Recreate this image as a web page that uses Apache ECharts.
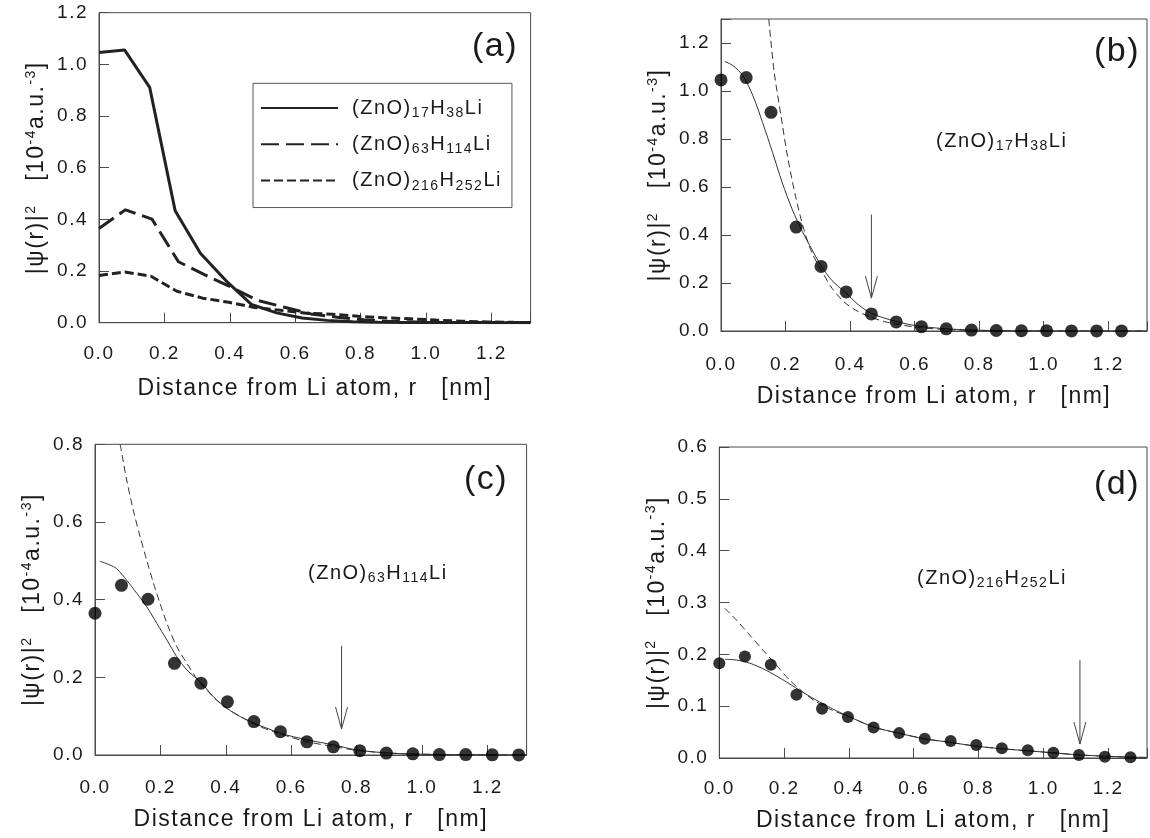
<!DOCTYPE html>
<html><head><meta charset="utf-8">
<script src="https://cdn.jsdelivr.net/npm/echarts@6/dist/echarts.min.js"></script>
<style>html,body{margin:0;padding:0;background:#fff}#c{width:1150px;height:838px}</style>
</head><body><div id="c"></div>
<script>
// ---------- data ----------
const clusterSubs = [['17','38'], ['63','114'], ['216','252']];
const clusterNames = ['(ZnO)17H38Li', '(ZnO)63H114Li', '(ZnO)216H252Li'];

const r17   = [0.000,0.078,0.155,0.233,0.310,0.388,0.466,0.543,0.621,0.698,0.776,0.853,0.931,1.009,1.086,1.164,1.241];
const psi17 = [1.046,1.056,0.911,0.433,0.269,0.163,0.071,0.038,0.018,0.009,0.004,0.002,0.001,0.001,0.0005,0.0003,0.0002];

const r63   = [0.000,0.081,0.162,0.243,0.324,0.405,0.486,0.567,0.648,0.729,0.810,0.891,0.972,1.053,1.134,1.215,1.296];
const psi63 = [0.365,0.437,0.401,0.236,0.185,0.137,0.086,0.060,0.034,0.021,0.011,0.005,0.003,0.001,0.001,0.0005,0.0003];

const r216   = [0.000,0.079,0.159,0.238,0.317,0.397,0.476,0.555,0.634,0.714,0.793,0.872,0.952,1.031,1.110,1.190,1.269];
const psi216 = [0.183,0.196,0.180,0.122,0.095,0.079,0.059,0.048,0.037,0.033,0.025,0.019,0.015,0.010,0.006,0.0026,0.0013];

// last point of the panel (a) curves at the right edge
const tailR = 1.32;
const tailPsi = [0.0001, 0.0002, 0.0008];

// fitted curves, panels (b)-(d): [r, |psi|^2]
const fitB_solid = [[0.012,1.123],[0.038,1.105],[0.068,1.063],[0.099,0.98],[0.129,0.868],[0.16,0.743],[0.19,0.617],[0.221,0.506],[0.252,0.415],[0.282,0.339],[0.31,0.272],[0.344,0.21],[0.386,0.16],[0.425,0.11],[0.464,0.075],[0.503,0.055],[0.542,0.040],[0.58,0.028],[0.619,0.019],[0.70,0.009],[0.78,0.004],[0.9,0.001],[1.0,0.0005],[1.32,0]];
const fitB_dash  = [[0.148,1.30],[0.165,1.077],[0.186,0.896],[0.206,0.729],[0.231,0.561],[0.257,0.422],[0.282,0.325],[0.31,0.255],[0.344,0.178],[0.384,0.118],[0.425,0.081],[0.466,0.057],[0.507,0.039],[0.548,0.028],[0.609,0.015],[0.70,0.006],[0.8,0.002],[1.0,0.0005],[1.32,0]];
const fitC_solid = [[0.015,0.499],[0.046,0.489],[0.066,0.48],[0.097,0.45],[0.128,0.416],[0.158,0.382],[0.189,0.339],[0.22,0.296],[0.25,0.253],[0.281,0.219],[0.326,0.185],[0.362,0.150],[0.404,0.120],[0.444,0.099],[0.486,0.082],[0.526,0.069],[0.567,0.056],[0.607,0.047],[0.648,0.039],[0.73,0.026],[0.8,0.013],[0.9,0.005],[1.0,0.002],[1.1,0.001],[1.32,0]];
const fitC_dash  = [[0.077,0.80],[0.097,0.708],[0.117,0.631],[0.138,0.562],[0.158,0.502],[0.179,0.442],[0.199,0.39],[0.22,0.339],[0.25,0.279],[0.281,0.236],[0.311,0.197],[0.342,0.167],[0.383,0.133],[0.424,0.109],[0.465,0.09],[0.505,0.073],[0.546,0.060],[0.587,0.049],[0.648,0.034],[0.73,0.022],[0.8,0.012],[0.9,0.005],[1.0,0.002],[1.32,0]];
const fitD_solid = [[0.017,0.1905],[0.053,0.189],[0.094,0.183],[0.145,0.169],[0.196,0.151],[0.247,0.131],[0.298,0.112],[0.349,0.095],[0.4,0.080],[0.475,0.060],[0.553,0.048],[0.634,0.037],[0.715,0.030],[0.79,0.023],[0.87,0.018],[0.95,0.014],[1.03,0.010],[1.11,0.006],[1.19,0.0035],[1.27,0.0017],[1.32,0.001]];
const fitD_dash  = [[0.017,0.289],[0.053,0.266],[0.094,0.237],[0.135,0.208],[0.175,0.18],[0.216,0.151],[0.257,0.128],[0.298,0.109],[0.349,0.092],[0.4,0.080],[0.475,0.060],[0.553,0.048],[0.634,0.037],[0.715,0.030],[0.79,0.023],[0.87,0.018],[0.95,0.014],[1.03,0.010],[1.11,0.006],[1.19,0.0035],[1.27,0.0017],[1.32,0.001]];

// arrows: [r, top value, tip value]
const arrowB = [0.466, 0.485, 0.137];
const arrowC = [0.754, 0.281, 0.067];
const arrowD = [1.113, 0.189, 0.027];

// axis ranges
const xMax = 1.32;
const yMax = [1.2, 1.3, 0.8, 0.6];
const yStep = [0.2, 0.2, 0.2, 0.1];
const panelTags = ['(a)', '(b)', '(c)', '(d)'];
const xTitle = 'Distance from Li atom, r   [nm]';

// ---------- slight letter tracking like the original figure ----------
(function(){
  const P = CanvasRenderingContext2D.prototype;
  if (!('letterSpacing' in P)) return;
  ['fillText','strokeText','measureText'].forEach(fn => {
    const o = P[fn];
    P[fn] = function(){ this.letterSpacing = '1.5px'; return o.apply(this, arguments); };
  });
})();

const FONT = 'Liberation Sans, Arial, sans-serif';
const INK = '#1a1a1a';
const AX = '#4a4a4a';

function pairs(r, v) { return r.map((x, i) => [x, v[i]]); }
function richName(i) {
  const s = clusterSubs[i];
  return '{n|(ZnO)}{s|' + s[0] + '}{n|H}{s|' + s[1] + '}{n|Li}';
}
const richSub = {
  n: {fontSize: 20, lineHeight: 26, verticalAlign: 'middle', fontFamily: FONT, color: INK},
  s: {fontSize: 14, lineHeight: 14, verticalAlign: 'bottom', fontFamily: FONT, color: INK}
};
const yTitle = '{m||ψ(r)|}{p|2}{m|   [10}{p|-4}{m|a.u.}{p|-3}{m|]}';
const richSup = {
  m: {fontSize: 23, lineHeight: 28, verticalAlign: 'middle', fontFamily: FONT, color: INK},
  p: {fontSize: 14, lineHeight: 14, verticalAlign: 'top', fontFamily: FONT, color: INK}
};

const grids = [
  {left: 99,    top: 12.7,  width: 431.6, height: 310},
  {left: 721,   top: 19,    width: 431.6, height: 312},
  {left: 95,    top: 444.3, width: 431.6, height: 310.7},
  {left: 719.3, top: 447,   width: 431.6, height: 311}
].map(g => Object.assign(g, {show: true, borderColor: AX, borderWidth: 1, containLabel: false}));

const xNameGap = [54, 53, 52, 50];
const xLabelGap = [21, 24, 23, 21];
const xAxes = grids.map((g, i) => ({
  gridIndex: i, type: 'value', min: 0, max: xMax, interval: 0.2,
  name: xTitle, nameLocation: 'middle', nameGap: xNameGap[i],
  nameTextStyle: {fontSize: 23, color: INK, fontFamily: FONT},
  axisLine: {show: true, lineStyle: {color: AX, width: 1}},
  axisTick: {show: true, inside: true, length: 10, lineStyle: {color: AX, width: 1}},
  splitLine: {show: false},
  axisLabel: {
    margin: xLabelGap[i], fontSize: 19, color: INK, fontFamily: FONT,
    formatter: v => (Math.abs(v / 0.2 - Math.round(v / 0.2)) < 1e-6 ? v.toFixed(1) : '')
  }
}));
const yAxes = grids.map((g, i) => ({
  gridIndex: i, type: 'value', min: 0, max: yMax[i], interval: yStep[i],
  name: yTitle, nameLocation: 'middle', nameGap: 48, nameRotate: 90,
  nameTextStyle: {fontSize: 23, color: INK, fontFamily: FONT, rich: richSup},
  axisLine: {show: true, lineStyle: {color: AX, width: 1}},
  axisTick: {show: true, inside: true, length: 10, lineStyle: {color: AX, width: 1}},
  splitLine: {show: false},
  axisLabel: {
    margin: 11, fontSize: 19, color: INK, fontFamily: FONT,
    formatter: v => (Math.abs(v / yStep[i] - Math.round(v / yStep[i])) < 1e-6 ? v.toFixed(1) : '')
  }
}));

const rAll = [r17, r63, r216];
const pAll = [psi17, psi63, psi216];
const dashA = ['solid', [18, 7], [9, 4]];

const series = [];
// panel (a): three thick lines
for (let k = 0; k < 3; k++) {
  series.push({
    name: clusterNames[k], type: 'line', xAxisIndex: 0, yAxisIndex: 0,
    data: pairs(rAll[k], pAll[k]).concat([[tailR, tailPsi[k]]]),
    symbol: 'none', smooth: false,
    lineStyle: {color: '#222', width: 3, type: dashA[k]},
    itemStyle: {color: '#222'}, z: 3 - k
  });
}
// panels (b)-(d)
const fits = [[fitB_solid, fitB_dash], [fitC_solid, fitC_dash], [fitD_solid, fitD_dash]];
const arrows = [arrowB, arrowC, arrowD];
const dotSize = [13, 13, 12];
for (let k = 0; k < 3; k++) {
  const gi = k + 1;
  series.push({
    type: 'line', xAxisIndex: gi, yAxisIndex: gi, data: fits[k][0],
    symbol: 'none', smooth: 0.3, lineStyle: {color: '#333', width: 1}, z: 2
  });
  series.push({
    type: 'line', xAxisIndex: gi, yAxisIndex: gi, data: fits[k][1],
    symbol: 'none', smooth: 0.3, lineStyle: {color: '#333', width: 1, type: [7, 4]}, z: 2
  });
  series.push({
    type: 'scatter', xAxisIndex: gi, yAxisIndex: gi, data: pairs(rAll[k], pAll[k]),
    symbol: 'circle', symbolSize: dotSize[k], itemStyle: {color: '#000'}, z: 4
  });
  series.push({
    type: 'custom', xAxisIndex: gi, yAxisIndex: gi, data: [arrows[k]],
    encode: {x: 0, y: 1}, z: 5, silent: true,
    renderItem: (params, api) => {
      const top = api.coord([api.value(0), api.value(1)]);
      const tip = api.coord([api.value(0), api.value(2)]);
      const st = {stroke: '#444', lineWidth: 1, fill: null};
      return {type: 'group', children: [
        {type: 'line', shape: {x1: top[0], y1: top[1], x2: tip[0], y2: tip[1]}, style: st},
        {type: 'polyline', shape: {points: [[tip[0] - 6, tip[1] - 22], [tip[0], tip[1]], [tip[0] + 6, tip[1] - 22]]}, style: st}
      ]};
    }
  });
}

const tagPos = [[472, 47], [1094, 52], [464, 480], [1094, 485]];
const namePos = [[936, 141], [308, 573], [917, 578]];
const graphics = [];
panelTags.forEach((t, i) => graphics.push({
  type: 'text', x: tagPos[i][0], y: tagPos[i][1], z: 10,
  style: {text: t, fontSize: 34, fontFamily: FONT, fill: INK, textAlign: 'left', textVerticalAlign: 'middle', align: 'left', verticalAlign: 'middle'}
}));
namePos.forEach((p, k) => graphics.push({
  type: 'text', x: p[0], y: p[1], z: 10,
  style: {text: richName(k), rich: richSub, fontSize: 20, fontFamily: FONT, fill: INK, textAlign: 'left', textVerticalAlign: 'middle', align: 'left', verticalAlign: 'middle'}
}));

const chart = echarts.init(document.getElementById('c'), null, {renderer: 'canvas'});
chart.setOption({
  animation: false,
  backgroundColor: '#fff',
  textStyle: {fontFamily: FONT},
  grid: grids,
  xAxis: xAxes,
  yAxis: yAxes,
  legend: {
    data: clusterNames, orient: 'vertical', left: 253, top: 83.3,
    padding: [14, 10, 14, 7], itemGap: 12.5, itemWidth: 77, itemHeight: 14,
    borderColor: '#555', borderWidth: 1, selectedMode: false,
    itemStyle: {color: 'rgba(0,0,0,0)', borderColor: 'rgba(0,0,0,0)', borderWidth: 0},
    formatter: name => richName(clusterNames.indexOf(name)),
    textStyle: {fontSize: 20, color: INK, fontFamily: FONT, padding: [0, 0, 0, 9], rich: richSub}
  },
  graphic: graphics,
  series: series
});
</script>
</body></html>
